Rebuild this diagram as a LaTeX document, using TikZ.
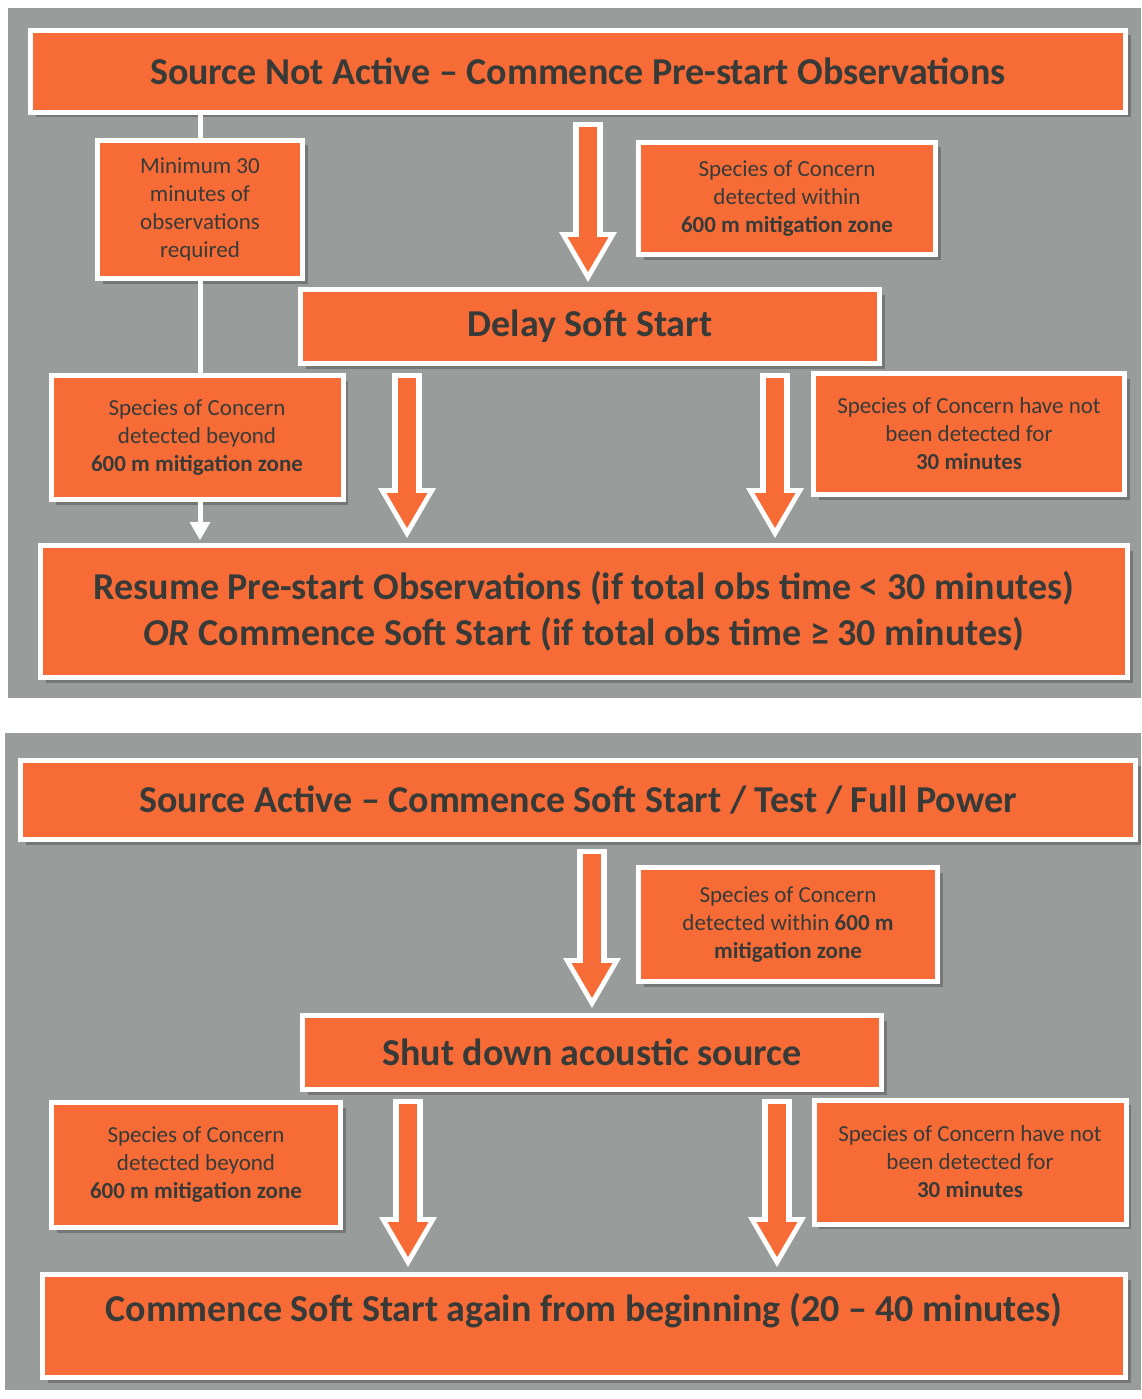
\documentclass[tikz,border=0pt]{standalone}
\usepackage{fontspec}
\setmainfont{Carlito}
\usetikzlibrary{arrows.meta,shadows}
\definecolor{panelgrey}{RGB}{152,156,155}
\definecolor{boxorange}{RGB}{247,108,54}
\definecolor{inkgrey}{RGB}{56,58,56}
\begin{document}
\begin{tikzpicture}[x=1pt, y=-1pt,
		box/.style={rectangle, draw=white, line width=5pt, fill=boxorange, text=inkgrey, align=center, inner sep=0pt,
			drop shadow={shadow xshift=5pt, shadow yshift=-5pt, fill=black!70, opacity=0.45}},
		smallbox/.style={box, font=\fontsize{23}{28}\selectfont},
		bigbox/.style={box, font=\bfseries\fontsize{38}{46}\selectfont},
		fatout/.style={draw=white, line width=30pt, shorten <=7pt, shorten >=5pt, -{Triangle[length=50pt,width=58pt,line width=0pt]}},
		fatin/.style={draw=boxorange, line width=18pt, shorten <=12pt, shorten >=15pt, -{Triangle[length=35pt,width=41pt,line width=0pt]}},
		wline/.style={draw=white, line width=5pt}]
	\useasboundingbox (0,0) rectangle (1141,1399);

	%––––– panel 1 –––––
	\fill[panelgrey] (8,8) rectangle (1141,698);

	\node[bigbox, minimum width=1095pt, minimum height=82pt] (t1) at (578,71.5) {Source Not Active – Commence Pre-start Observations};

	\node[smallbox, minimum width=205pt, minimum height=138pt] (m1) at (200,209.5) {Minimum 30\\minutes of\\observations\\required};

	\node[smallbox, minimum width=297pt, minimum height=112pt] (w1) at (787,198.5) {Species of Concern\\detected within\\\textbf{600 m mitigation zone}};

	\node[bigbox, minimum width=579pt, minimum height=74pt] (d1) at (590,326.5) {Delay Soft Start};

	\node[smallbox, minimum width=292pt, minimum height=124pt] (b1) at (197,437.5) {Species of Concern\\detected beyond\\\textbf{600 m mitigation zone}};

	\node[smallbox, minimum width=311pt, minimum height=121pt] (n1) at (969,434) {Species of Concern have not\\been detected for\\\textbf{30 minutes}};

	\node[bigbox, minimum width=1087pt, minimum height=132pt] (r1) at (584,611.5)
		{Resume Pre-start Observations (if total obs time < 30 minutes)\\\textit{OR} Commence Soft Start (if total obs time ≥ 30 minutes)};

	\coordinate (x1) at (588,0);
	\coordinate (x2) at (407,0);
	\coordinate (x3) at (775,0);

	\draw[wline] (t1.south -| m1) -- (m1.north);
	\draw[wline] (m1.south) -- (b1.north -| m1);
	\draw[wline, shorten >=3pt, -{Triangle[length=18pt,width=21pt,line width=0pt]}] (b1.south -| m1) -- (r1.north -| m1);

	\draw[fatout] (t1.south -| x1) -- (d1.north -| x1);
	\draw[fatin] (t1.south -| x1) -- (d1.north -| x1);
	\draw[fatout] (d1.south -| x2) -- (r1.north -| x2);
	\draw[fatin] (d1.south -| x2) -- (r1.north -| x2);
	\draw[fatout] (d1.south -| x3) -- (r1.north -| x3);
	\draw[fatin] (d1.south -| x3) -- (r1.north -| x3);

	%––––– panel 2 –––––
	\fill[panelgrey] (5,733) rectangle (1141,1390);

	\node[bigbox, minimum width=1115pt, minimum height=79pt] (t2) at (578,800) {Source Active – Commence Soft Start / Test / Full Power};

	\node[smallbox, minimum width=299pt, minimum height=114pt] (w2) at (788,924.5) {Species of Concern\\detected within \textbf{600 m}\\\textbf{mitigation zone}};

	\node[bigbox, minimum width=579pt, minimum height=74pt] (s2) at (592,1052.5) {Shut down acoustic source};

	\node[smallbox, minimum width=289pt, minimum height=125pt] (b2) at (196,1165) {Species of Concern\\detected beyond\\\textbf{600 m mitigation zone}};

	\node[smallbox, minimum width=312pt, minimum height=124pt] (n2) at (970,1162) {Species of Concern have not\\been detected for\\\textbf{30 minutes}};

	\node[bigbox, minimum width=1083pt, minimum height=103pt, text height=27pt, text depth=36pt] (c2) at (584,1326) {Commence Soft Start again from beginning (20 – 40 minutes)};

	\coordinate (y1) at (592,0);
	\coordinate (y2) at (408,0);
	\coordinate (y3) at (777,0);

	\draw[fatout] (t2.south -| y1) -- (s2.north -| y1);
	\draw[fatin] (t2.south -| y1) -- (s2.north -| y1);
	\draw[fatout] (s2.south -| y2) -- (c2.north -| y2);
	\draw[fatin] (s2.south -| y2) -- (c2.north -| y2);
	\draw[fatout] (s2.south -| y3) -- (c2.north -| y3);
	\draw[fatin] (s2.south -| y3) -- (c2.north -| y3);
\end{tikzpicture}
\end{document}
